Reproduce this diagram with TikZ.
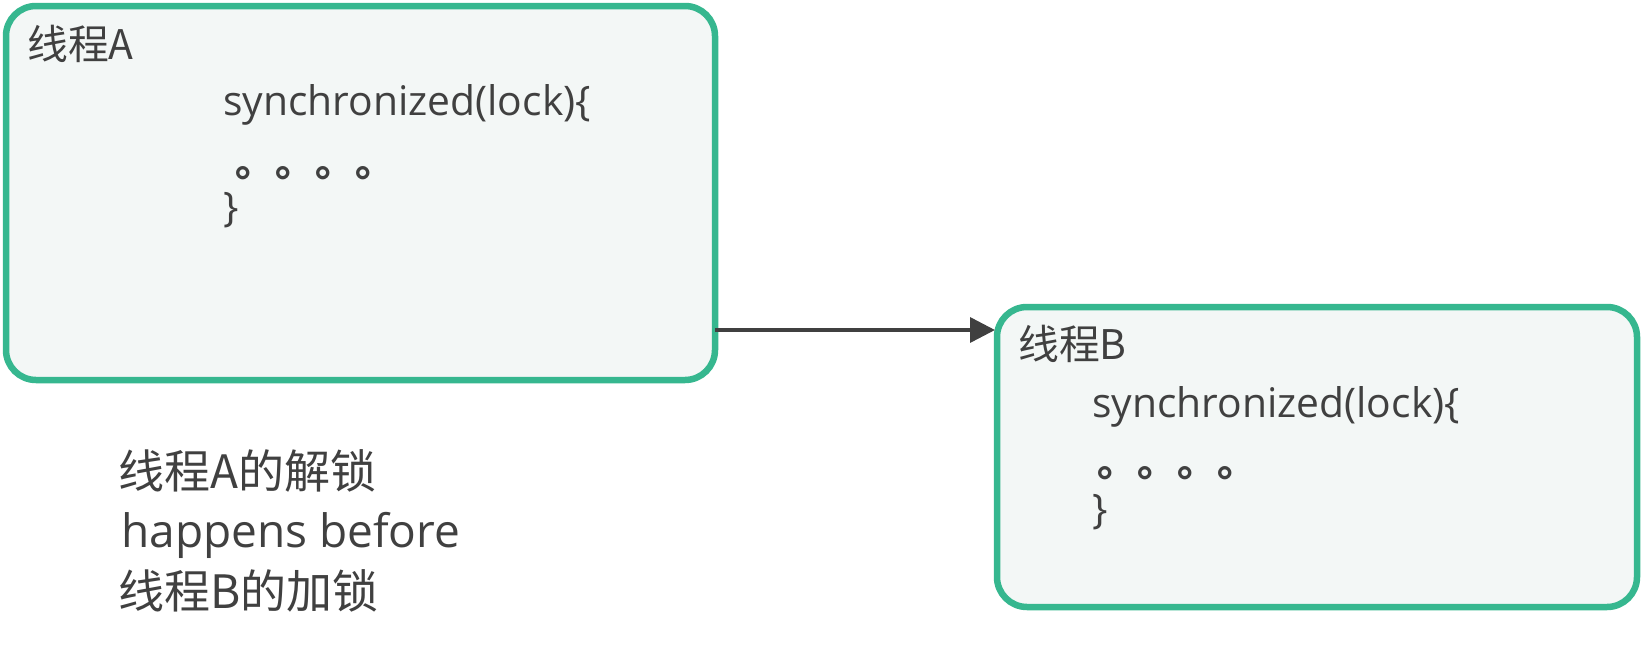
\documentclass[tikz,border=0pt]{standalone}
\usepackage{fontspec}
\setmainfont{Open Sans}
\newfontfamily\cjk{Noto Sans CJK SC}
\usetikzlibrary{arrows.meta}
\definecolor{edgegreen}{HTML}{36B78F}
\definecolor{boxfill}{HTML}{F3F7F6}
\definecolor{ink}{HTML}{404040}
\tikzset{
  threadbox/.style={draw=edgegreen, fill=boxfill, line width=6.5pt, rounded corners=30pt, inner sep=0pt, outer sep=0pt},
  txt/.style={inner sep=0pt, anchor=base west, text=ink, font=\fontsize{40.8}{48}\selectfont},
  dots/.style={inner sep=0pt, anchor=base west, text=ink, font=\fontsize{40}{48}\selectfont\cjk\bfseries},
  bigtxt/.style={inner sep=0pt, anchor=base west, text=ink, font=\fontsize{46}{55}\selectfont},
  arr/.style={draw=ink, line width=3.5pt, -{Triangle[length=25pt,width=25pt]}, shorten >=2pt}
}
\begin{document}
\begin{tikzpicture}[x=1pt,y=-1pt]
\useasboundingbox (0,0) rectangle (1642,656);
\node[threadbox, minimum width=709pt, minimum height=374pt] (A) at (360.5,193) {};
\node[threadbox, minimum width=640pt, minimum height=300pt] (B) at (1317,457) {};
\coordinate (ay) at (0,330);
\draw[arr] (A.east |- ay) -- (B.west |- ay);
% box A texts
\node[txt] (la) at (27,59) {\cjk 线程A};
\node[txt] (sa) at (223,115) {synchronized(lock)\{};
\node[dots] (da) at (235,176) {。。。。};
\node[txt] (ba) at (223,221) {\}};
% box B texts
\node[txt] (lb) at (1018,359) {\cjk 线程B};
\node[txt] (sb) at (1092,417) {synchronized(lock)\{};
\node[dots] (db) at (1097,476) {。。。。};
\node[txt] (bb) at (1092,523) {\}};
% caption
\node[bigtxt] (c1) at (118,488) {\cjk 线程A的解锁};
\node[bigtxt] (c2) at (121,547) {happens before};
\node[bigtxt] (c3) at (118,608) {\cjk 线程B的加锁};
\end{tikzpicture}
\end{document}
